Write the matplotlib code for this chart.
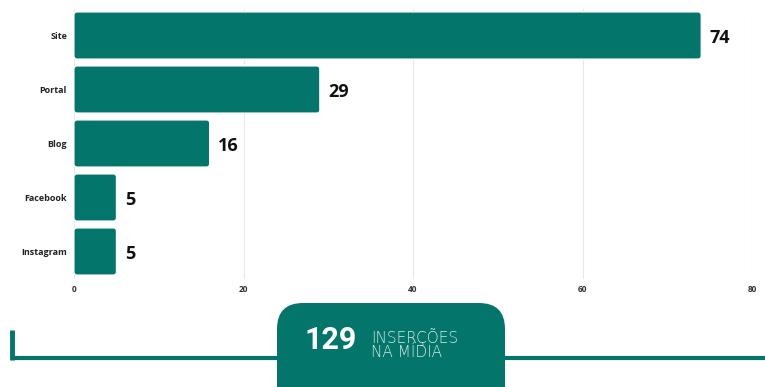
import matplotlib.pyplot as plt
from matplotlib.patches import FancyBboxPatch

# Inserções por canal
canais = ['Site', 'Portal', 'Blog', 'Facebook', 'Instagram']
insercoes = [74, 29, 16, 5, 5]
total = 129
ticks = [0, 20, 40, 60, 80]

teal = '#03756a'
W, H = 765, 387

plt.rcParams['font.family'] = ['Open Sans', 'DejaVu Sans']

fig = plt.figure(figsize=(W / 100, H / 100), dpi=100, facecolor='white')

# bar panel placed in pixel terms
left, right, top, bottom = 74, 752, 8.5, 278.5
ax = fig.add_axes([left / W, 1 - bottom / H, (right - left) / W, (bottom - top) / H])
ax.set_xlim(0, 80)
ax.set_ylim(len(canais) - 0.5, -0.5)

px_x = (right - left) / 80
px_y = (bottom - top) / len(canais)
bar_h = 0.87

for i, (nome, v) in enumerate(zip(canais, insercoes)):
    bar = FancyBboxPatch((0, i - bar_h / 2), v, bar_h,
                         boxstyle='round,pad=0,rounding_size=0.35',
                         mutation_aspect=px_x / px_y,
                         facecolor=teal, edgecolor='white', linewidth=0.8, zorder=3)
    ax.add_patch(bar)
    ax.text(v + 1.0, i + 0.05, str(v), ha='left', va='center',
            fontsize=13, fontweight='bold', color='#111111', zorder=4)

ax.set_yticks(range(len(canais)))
ax.set_yticklabels(canais, fontsize=6.5, fontweight='bold', color='#222222')
ax.set_xticks(ticks)
ax.set_xticklabels([str(t) for t in ticks], fontsize=6, fontweight='bold', color='#333333')
ax.tick_params(axis='y', length=0, pad=5)
ax.tick_params(axis='x', length=0, pad=5)
ax.grid(axis='x', color='#e8e8e8', linewidth=0.8, zorder=0)
for s in ax.spines.values():
    s.set_visible(False)

# bottom banner drawn in pixel coordinates
deco = fig.add_axes([0, 0, 1, 1], zorder=5)
deco.set_xlim(0, W)
deco.set_ylim(H, 0)
deco.axis('off')

deco.plot([12, W], [358, 358], color=teal, linewidth=3, solid_capstyle='butt')
deco.plot([12, 12], [330, 359.5], color=teal, linewidth=3.5, solid_capstyle='butt')

box = FancyBboxPatch((277, 303), 228, 140,
                     boxstyle='round,pad=0,rounding_size=26',
                     facecolor=teal, edgecolor='none', zorder=6)
deco.add_patch(box)

deco.text(331, 340, str(total), ha='center', va='center', fontsize=22,
          fontweight='bold', color='white', zorder=7,
          family=['Liberation Sans Narrow', 'DejaVu Sans Condensed', 'Roboto'])
deco.text(371, 344, 'INSERÇÕES\nNA MÍDIA', ha='left', va='center', fontsize=11,
          fontweight='light', color='#d7ebe7', linespacing=0.9, zorder=7,
          family=['DejaVu Sans'])

fig.savefig('out.png', dpi=100, facecolor='white')
